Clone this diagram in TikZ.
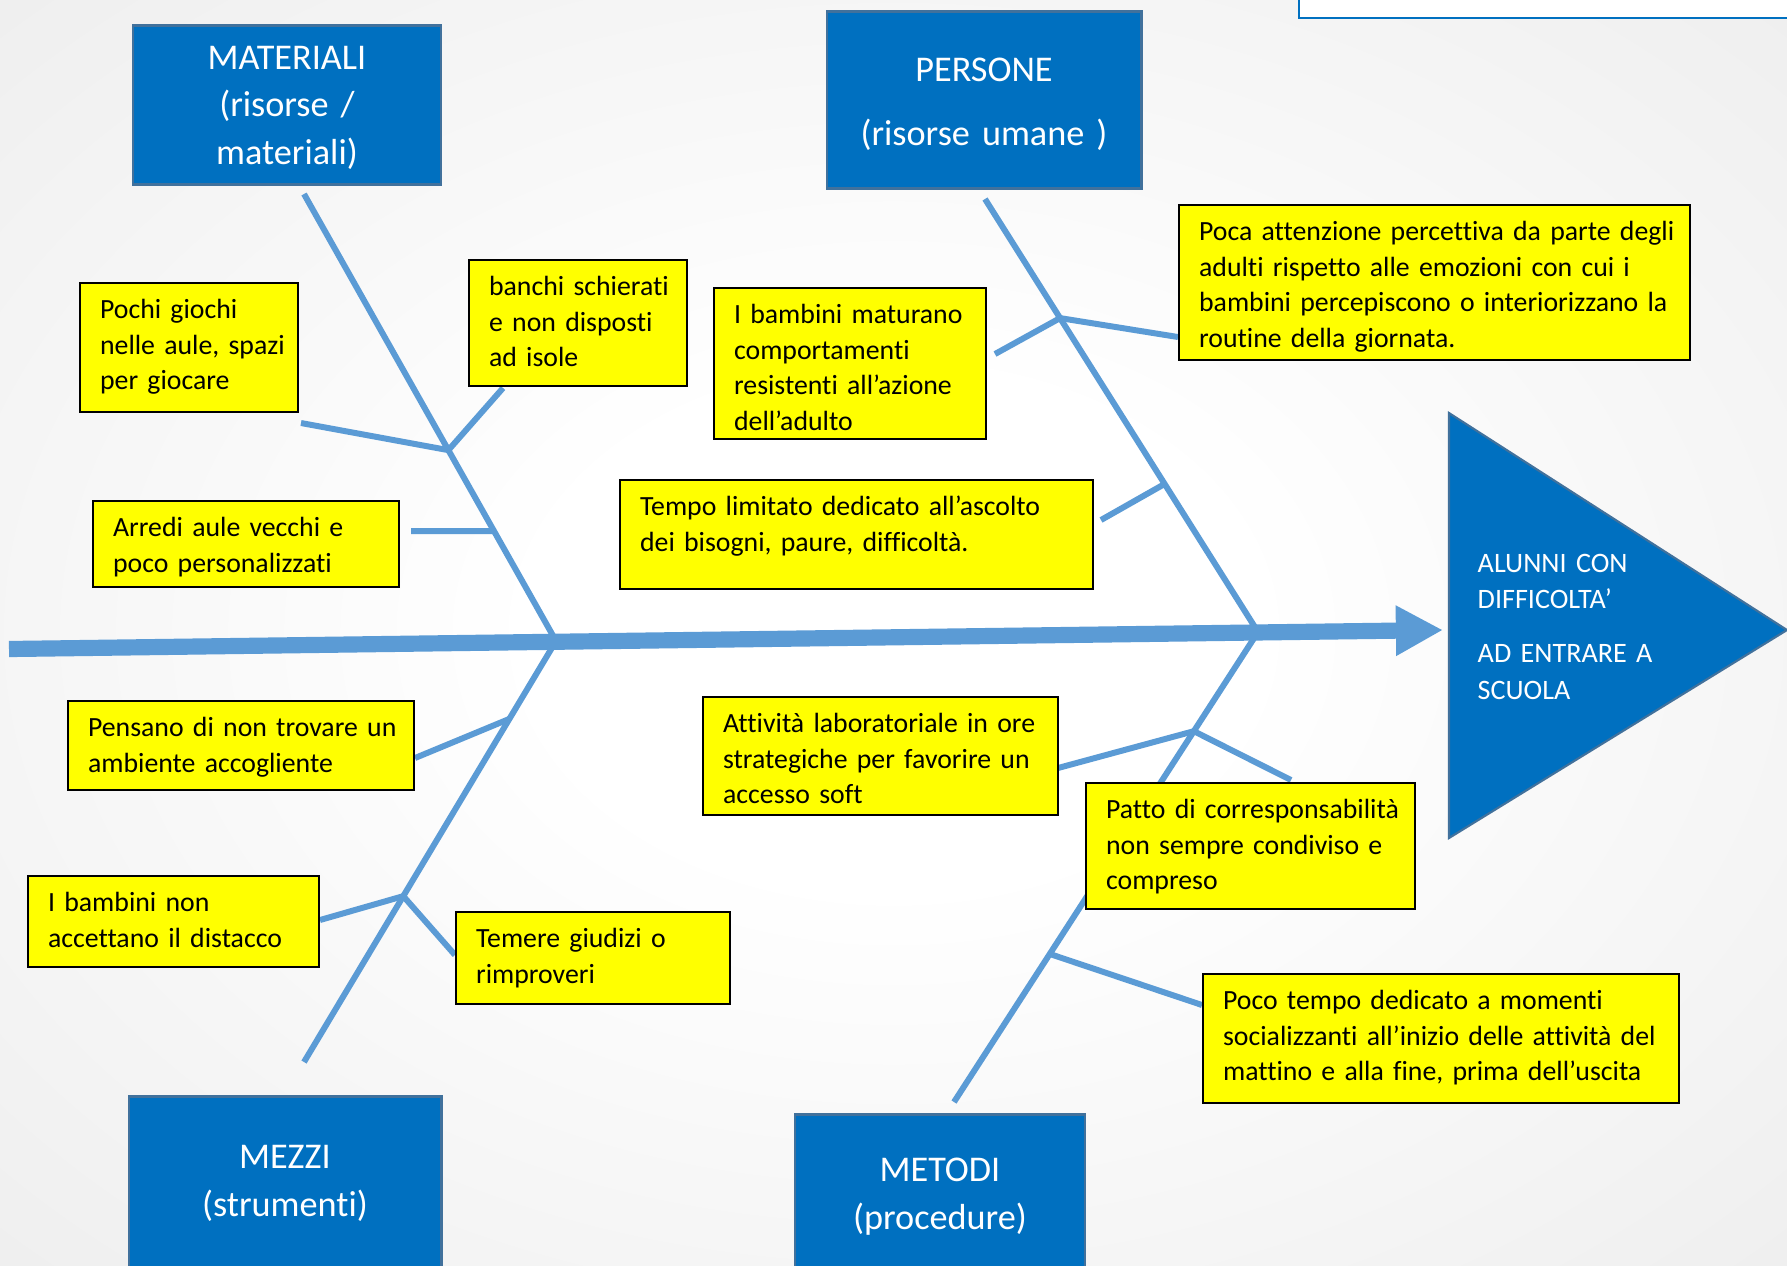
\documentclass[tikz,border=0pt]{standalone}
\usepackage{fontspec}
\setmainfont{Carlito}[Ligatures=CommonOff]
\usetikzlibrary{arrows.meta}
\usetikzlibrary{calc}

\definecolor{headblue}{HTML}{0070C0}
\definecolor{headline}{HTML}{41719C}
\definecolor{bonecol}{HTML}{5B9BD5}
\definecolor{notefill}{HTML}{FFFF00}
\pgfdeclareradialshading{sfondo}{\pgfpoint{0bp}{0bp}}{color(0bp)=(white); color(10bp)=(white); color(66bp)=(black!14)}

\begin{document}
\begin{tikzpicture}[x=0.01cm, y=-0.01cm,
        nota/.style={draw=black, line width=0.6pt, fill=notefill, anchor=north west, align=left, inner xsep=5.7pt, inner ysep=2.6pt, text height=7.5pt, font=\fontsize{7.9}{10.15}\selectfont, execute at begin node={\rightskip=0pt plus 1fil minus 2cm}},
        testa/.style={draw=headline, line width=0.8pt, fill=headblue, text=white, anchor=north, align=center, inner sep=0pt, font=\fontsize{10.3}{13.6}\selectfont},
        osso/.style={draw=bonecol, line width=1.7pt}]
    \useasboundingbox (0,0) rectangle (1787,1265);
    \shade[shading=sfondo] (0,0) rectangle (1787,1265);
    \draw[draw=headblue, line width=0.7pt, fill=white] (1299,-10) rectangle (1800,18);

    \coordinate (s0) at (9,649);
    \coordinate (tip) at (1443,630);
    \coordinate (ulT) at (304,194);
    \coordinate (ulJ) at (556,641);
    \coordinate (llB) at (304,1062);
    \coordinate (urT) at (985,199);
    \coordinate (urJ) at (1258,632);
    \coordinate (lrB) at (954,1102);
    \coordinate (ulA) at ($(ulT)!0.573!(ulJ)$);
    \coordinate (ulB) at ($(ulT)!0.754!(ulJ)$);
    \coordinate (llA) at ($(ulJ)!0.185!(llB)$);
    \coordinate (llC) at ($(ulJ)!0.606!(llB)$);
    \coordinate (urA) at ($(urT)!0.275!(urJ)$);
    \coordinate (urB) at ($(urT)!0.658!(urJ)$);
    \coordinate (lrA) at ($(urJ)!0.211!(lrB)$);
    \coordinate (lrC) at ($(urJ)!0.685!(lrB)$);
    \coordinate (a1) at (301,423);
    \coordinate (a2) at (503,388);
    \coordinate (a3) at (411,531);
    \coordinate (b1) at (415,758);
    \coordinate (b2) at (320,920);
    \coordinate (b3) at (455,955);
    \coordinate (c1) at (995,354);
    \coordinate (c2) at (1178,337);
    \coordinate (c3) at (1101,520);
    \coordinate (d1) at (1058,768);
    \coordinate (d2) at (1291,780);
    \coordinate (d3) at (1202,1005);

    \draw[osso] (ulT) -- (ulJ);
    \draw[osso] (ulJ) -- (llB);
    \draw[osso] (urT) -- (urJ);
    \draw[osso] (urJ) -- (lrB);
    \draw[osso] (a1) -- (ulA) -- (a2);
    \draw[osso] (a3) -- (ulB);
    \draw[osso] (b1) -- (llA);
    \draw[osso] (b2) -- (llC) -- (b3);
    \draw[osso] (c1) -- (urA) -- (c2);
    \draw[osso] (c3) -- (urB);
    \draw[osso] (d1) -- (lrA) -- (d2);
    \draw[osso] (lrC) -- (d3);
    \draw[bonecol, line width=4.6pt, -{Triangle[length=13.4pt,width=13.4pt]}] (s0) -- (tip);

    \node[testa, text width=3.08cm, text height=12.4pt, text depth=32.8pt] (materiali) at (287,24) {MATERIALI\\(risorse /\\materiali)};
    \node[testa, text width=3.14cm, text height=19.9pt, text depth=30.5pt] (persone) at (984,10) {PERSONE\\[4.6pt](risorse umane~)};
    \node[testa, text width=3.12cm, text height=20.5pt, text depth=30.7pt] (mezzi) at (285,1095) {MEZZI\\(strumenti)};
    \node[testa, text width=2.90cm, text height=19.0pt, text depth=32.2pt] (metodi) at (940,1113) {METODI\\(procedure)};

    \node[nota, text width=1.78cm, text depth=24.0pt] (giochi) at (79,282) {Pochi giochi\\nelle aule, spazi\\per giocare};
    \node[nota, text width=1.78cm, text depth=23.15pt] (banchi) at (468,259) {banchi schierati\\e non disposti\\ad isole};
    \node[nota, text width=2.66cm, text depth=11.77pt] (arredi) at (92,500) {Arredi aule vecchi e\\poco personalizzati};
    \node[nota, text width=2.32cm, text depth=30.26pt] (maturano) at (713,287) {I bambini maturano\\comportamenti\\resistenti all’azione\\dell’adulto};
    \node[nota, text width=4.71cm, text depth=31.4pt] (attenzione) at (1178,204) {Poca attenzione percettiva da parte degli\\adulti rispetto alle emozioni con cui i\\bambini percepiscono o interiorizzano la\\routine della giornata.};
    \node[nota, text width=4.33cm, text depth=18.3pt] (ascolto) at (619,479) {Tempo limitato dedicato all’ascolto\\dei bisogni, paure, difficoltà.};
    \node[nota, text width=3.06cm, text depth=12.6pt] (ambiente) at (67,700) {Pensano di non trovare un\\ambiente accogliente};
    \node[nota, text width=2.51cm, text depth=13.2pt] (distacco) at (27,875) {I bambini non\\accettano il distacco};
    \node[nota, text width=2.34cm, text depth=13.5pt] (giudizi) at (455,911) {Temere giudizi o\\rimproveri};
    \node[nota, text width=3.15cm, text depth=20.9pt] (laboratorio) at (702,696) {Attività laboratoriale in ore\\strategiche per favorire un\\accesso soft};
    \node[nota, text width=2.89cm, text depth=23.15pt] (patto) at (1085,782) {Patto di corresponsabilità\\non sempre condiviso e\\compreso};
    \node[nota, text width=4.36cm, text depth=24.0pt] (socialita) at (1202,973) {Poco tempo dedicato a momenti\\socializzanti all’inizio delle attività del\\mattino e alla fine, prima dell’uscita};

    \draw[draw=headline, fill=headblue, line width=0.6pt] (1449,413) -- (1787,630) -- (1449,838) -- cycle;
    \node[anchor=north west, text width=3cm, align=left, inner sep=0pt, text height=7.5pt, text=white, font=\fontsize{8}{10.4}\selectfont] (esito) at (1477,545) {ALUNNI CON\\DIFFICOLTA’\\[5pt]AD ENTRARE A\\SCUOLA};
\end{tikzpicture}
\end{document}
